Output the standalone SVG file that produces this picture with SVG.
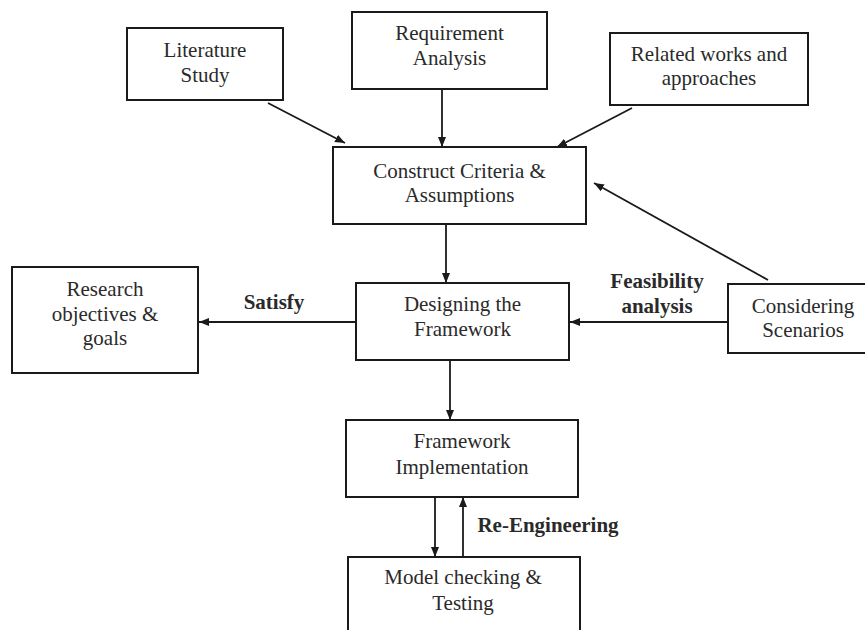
<svg xmlns="http://www.w3.org/2000/svg" width="865" height="630" viewBox="0 0 865 630">
<defs>
<style>
.box{fill:#fff;stroke:#1a1a1a;stroke-width:2}
.t{font-family:"Liberation Serif","Times New Roman",serif;font-size:21px;fill:#2a2a2a;text-anchor:middle}
.b{font-family:"Liberation Serif","Times New Roman",serif;font-size:21px;font-weight:bold;fill:#2a2a2a;text-anchor:middle}
.c{stroke:#1a1a1a;stroke-width:1.8;fill:none;marker-end:url(#ah)}
</style>
<marker id="ah" viewBox="0 0 10 8" refX="10" refY="4" markerWidth="10" markerHeight="8" markerUnits="userSpaceOnUse" orient="auto">
<path d="M0,0 L10,4 L0,8 Z" fill="#1a1a1a"/>
</marker>
</defs>
<rect width="865" height="630" fill="#fff"/>
<g id="connectors">
<line class="c" x1="268" y1="103" x2="345" y2="143"/>
<line class="c" x1="442" y1="89" x2="442" y2="147"/>
<line class="c" x1="632" y1="108" x2="557" y2="147"/>
<line class="c" x1="768" y1="280" x2="594" y2="183"/>
<line class="c" x1="446" y1="224" x2="446" y2="283"/>
<line class="c" x1="728" y1="322" x2="570" y2="322"/>
<line class="c" x1="356" y1="322" x2="199" y2="322"/>
<line class="c" x1="450" y1="360" x2="450" y2="420"/>
<line class="c" x1="435" y1="497" x2="435" y2="557"/>
<line class="c" x1="463" y1="557" x2="463" y2="497"/>
<text class="b" x="274" y="309">Satisfy</text>
<text class="b" x="657" y="288">Feasibility</text>
<text class="b" x="657" y="313">analysis</text>
<text class="b" x="548" y="532">Re-Engineering</text>
</g>
<g id="literature">
<rect class="box" x="127" y="28" width="156" height="72"/>
<text class="t" x="205" y="57">Literature</text>
<text class="t" x="205" y="82">Study</text>
</g>
<g id="requirement">
<rect class="box" x="352" y="12" width="195" height="77"/>
<text class="t" x="449.5" y="40">Requirement</text>
<text class="t" x="449.5" y="65">Analysis</text>
</g>
<g id="related">
<rect class="box" x="610" y="33" width="198" height="72"/>
<text class="t" x="709" y="61">Related works and</text>
<text class="t" x="709" y="85">approaches</text>
</g>
<g id="construct">
<rect class="box" x="333" y="147" width="253" height="77"/>
<text class="t" x="459.5" y="178">Construct Criteria &amp;</text>
<text class="t" x="459.5" y="202">Assumptions</text>
</g>
<g id="research">
<rect class="box" x="12" y="267" width="186" height="106"/>
<text class="t" x="105" y="296">Research</text>
<text class="t" x="105" y="321">objectives &amp;</text>
<text class="t" x="105" y="345">goals</text>
</g>
<g id="designing">
<rect class="box" x="356" y="283" width="213" height="77"/>
<text class="t" x="462.5" y="311">Designing the</text>
<text class="t" x="462.5" y="336">Framework</text>
</g>
<g id="considering">
<rect class="box" x="728" y="284" width="150" height="69"/>
<text class="t" x="803" y="313">Considering</text>
<text class="t" x="803" y="337">Scenarios</text>
</g>
<g id="implementation">
<rect class="box" x="346" y="420" width="232" height="77"/>
<text class="t" x="462" y="448">Framework</text>
<text class="t" x="462" y="474">Implementation</text>
</g>
<g id="model">
<rect class="box" x="348" y="557" width="232" height="90"/>
<text class="t" x="463" y="584">Model checking &amp;</text>
<text class="t" x="463" y="610">Testing</text>
</g>
</svg>
